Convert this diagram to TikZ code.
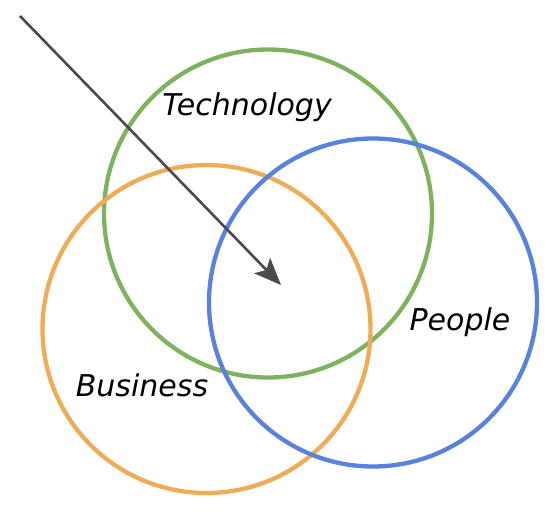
\documentclass[tikz,border=0pt]{standalone}
\usepackage{fontspec}
\setmainfont{DejaVu Sans}
\usetikzlibrary{arrows.meta}
\definecolor{cgreen}{HTML}{7FB25F}
\definecolor{corange}{HTML}{EFAC57}
\definecolor{cblue}{HTML}{5882DB}
\definecolor{carrow}{HTML}{4A4A4A}
\tikzset{
  ring/.style={line width=4.3pt},
  lbl/.style={font=\fontsize{30}{36}\selectfont\itshape, text=black, inner sep=0pt},
}
\begin{document}
\begin{tikzpicture}[x=1pt,y=-1pt]
\useasboundingbox (0,0) rectangle (558,512);
\draw[ring, cgreen] (268,213.5) circle (164);
\draw[ring, corange] (206.5,329) circle (164);
\draw[ring, cblue] (373,302.5) circle (164);
\coordinate (s) at (20,16);
\coordinate (t) at (281,285);
\draw[carrow, line width=2.6pt, -{Stealth[length=27pt,width=22pt,inset=6pt]}] (s) -- (t);
\node[lbl] (tech) at (247,107) {Technology};
\node[lbl] (people) at (460,322) {People};
\node[lbl] (bus) at (142,385) {Business};
\end{tikzpicture}
\end{document}
